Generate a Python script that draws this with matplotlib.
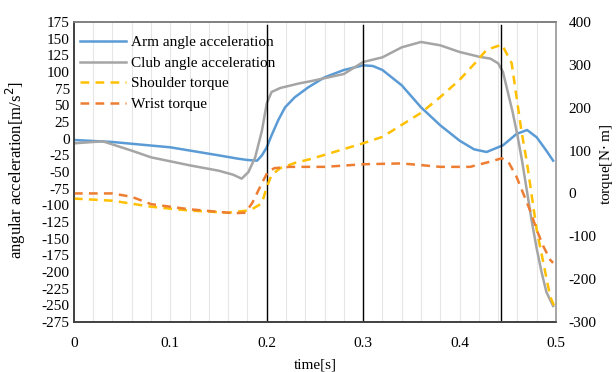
import numpy as np
import matplotlib.pyplot as plt

plt.rcParams.update({
    'font.family': 'Liberation Serif',
    'font.size': 11,
    'axes.unicode_minus': False,
})

# arm / club angular acceleration (left axis)
t_arm = [0, 0.04, 0.1, 0.15, 0.17, 0.18, 0.19, 0.195, 0.2, 0.205, 0.212, 0.219, 0.229,
         0.243, 0.26, 0.28, 0.30, 0.31, 0.32, 0.34, 0.36, 0.38, 0.40, 0.415, 0.428,
         0.445, 0.459, 0.47, 0.48, 0.49, 0.497]
arm = [-2, -5, -13, -25, -30, -32, -33, -25, -13, 5, 28, 47, 62,
       77, 92, 103, 110, 109, 103, 80, 47, 20, -3, -16, -20,
       -10, 7, 13, 2, -18, -33]

t_club = [0, 0.03, 0.06, 0.08, 0.1, 0.12, 0.15, 0.165, 0.174, 0.181, 0.188, 0.195, 0.2,
          0.205, 0.214, 0.234, 0.245, 0.28, 0.30, 0.32, 0.34, 0.36, 0.38, 0.40, 0.42,
          0.432, 0.44, 0.445, 0.45, 0.455, 0.46, 0.465, 0.47, 0.475, 0.48, 0.485, 0.49,
          0.497]
club = [-7, -4, -18, -28, -34, -40, -48, -54, -60, -50, -28, 12, 53,
        70, 76, 83, 86, 97, 115, 122, 137, 145, 140, 130, 123,
        120, 113, 100, 70, 40, 5, -35, -80, -125, -165, -200, -230,
        -251]

# shoulder / wrist torque (right axis)
t_sh = [0, 0.04, 0.08, 0.12, 0.16, 0.183, 0.195, 0.2, 0.205, 0.214, 0.229, 0.245, 0.26,
        0.3, 0.32, 0.34, 0.36, 0.38, 0.40, 0.416, 0.428, 0.437, 0.444, 0.454, 0.459,
        0.464, 0.47, 0.475, 0.48, 0.487, 0.494, 0.498]
shoulder = [-12, -17, -31, -40, -45, -39, -23, 15, 43, 59, 71, 80, 90,
            117, 132, 160, 188, 225, 265, 304, 335, 342, 347, 304, 226,
            148, 70, -8, -85, -163, -241, -262]

t_wr = [0, 0.04, 0.06, 0.08, 0.12, 0.16, 0.168, 0.178, 0.185, 0.19, 0.195, 0.201, 0.208,
        0.224, 0.26, 0.3, 0.34, 0.38, 0.411, 0.4315, 0.4437, 0.4505, 0.459, 0.466,
        0.473, 0.48, 0.487, 0.494, 0.497]
wrist = [0, 0, -8, -25, -37, -45, -46, -45, -22, 1, 24, 50, 59,
         62, 62, 68, 70, 62, 62, 74, 82, 74, 39, 0,
         -39, -85, -124, -155, -162]

phase_lines = [0.2, 0.3, 0.443]

fig = plt.figure(figsize=(6.16, 3.72), dpi=100)
ax = fig.add_axes([0.120, 0.1344, 0.7826, 0.8065])
ax2 = ax.twinx()

l1, = ax.plot(t_arm, arm, color='#5B9BD5', lw=1.8, label='Arm angle acceleration')
l2, = ax.plot(t_club, club, color='#A5A5A5', lw=1.8, label='Club angle acceleration')
l3, = ax2.plot(t_sh, shoulder, color='#FFC000', lw=1.8, dashes=(3.5, 2.5), label='Shoulder torque')
l4, = ax2.plot(t_wr, wrist, color='#ED7D31', lw=1.8, dashes=(3.5, 2.5), label='Wrist torque')

for x in phase_lines:
    ax.axvline(x, ymin=0, ymax=0.99, color='black', lw=1.0)

ax.set_xlim(0, 0.5)
ax.set_ylim(-275, 175)
ax.set_yticks(np.arange(-275, 176, 25))
ax.set_xticks([0, 0.1, 0.2, 0.3, 0.4, 0.5])
ax.set_xticklabels(['0', '0.1', '0.2', '0.3', '0.4', '0.5'])
ax.set_xticks(np.arange(0, 0.5, 0.02), minor=True)
ax.grid(True, which='both', axis='x', color='#E6E6E6', lw=0.8)
ax.set_axisbelow(True)
ax2.set_ylim(-300, 400)
ax2.set_yticks(np.arange(-300, 401, 100))

ax.tick_params(axis='y', length=0, labelsize=11, pad=3)
ax.tick_params(axis='x', length=0, labelsize=11, pad=11)
ax.tick_params(which='minor', length=0)
ax2.tick_params(length=0, labelsize=11, pad=9)

for a in (ax, ax2):
    a.spines['left'].set_color('#404040')
    a.spines['bottom'].set_color('#404040')
    a.spines['top'].set_color('#808080')
    a.spines['right'].set_color('#A6A6A6')
    for s in a.spines.values():
        s.set_linewidth(1.2)

ax.set_xlabel('time[s]', fontsize=11, labelpad=6)
ax.set_ylabel('angular acceleration[m/s$^2$]', fontsize=12)
ax.yaxis.set_label_coords(-0.095, 0.507)
ax2.set_ylabel('torque[N$\\cdot$ m]', fontsize=11)
ax2.yaxis.set_label_coords(1.087, 0.527)

ax2.legend(handles=[l1, l2, l3, l4], loc='upper left', frameon=False,
           fontsize=11, handlelength=3.0, labelspacing=0.45,
           borderaxespad=0.0, bbox_to_anchor=(0.0, 0.975), handletextpad=0.35)

fig.savefig('out.png', dpi=100)
